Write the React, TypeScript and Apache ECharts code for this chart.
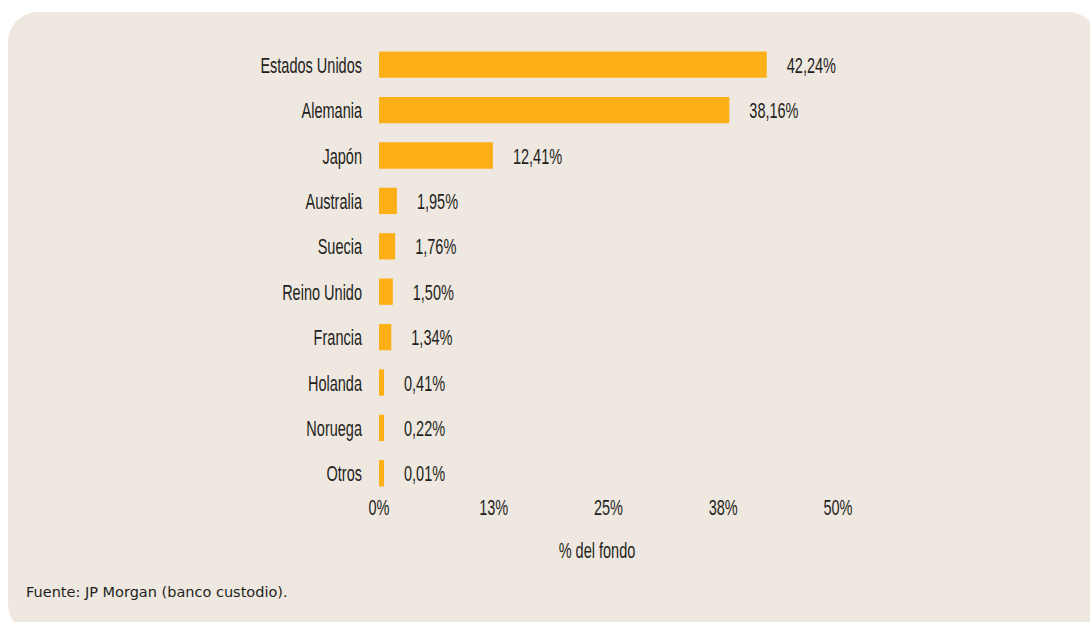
import React, { useEffect, useRef } from "react";
import * as echarts from "echarts";

const categories = [
  "Estados Unidos",
  "Alemania",
  "Japón",
  "Australia",
  "Suecia",
  "Reino Unido",
  "Francia",
  "Holanda",
  "Noruega",
  "Otros",
];
const values = [42.24, 38.16, 12.41, 1.95, 1.76, 1.5, 1.34, 0.41, 0.22, 0.01];
const tickValues = [0, 12.5, 25, 37.5, 50];
const axisName = "% del fondo";
const source = "Fuente: JP Morgan (banco custodio).";

const FONT = "'Liberation Sans', Arial, sans-serif";
const FS = 22;
const SX = 0.66;
const TEXT = "#231F20";
const BAR_MIN = 5;

function fmtPct(v: number) {
  return v.toFixed(2).replace(".", ",") + "%";
}

export default function App() {
  const ref = useRef<HTMLDivElement>(null);
  useEffect(() => {
    if (!ref.current) return;
    const chart = echarts.init(ref.current, null, { renderer: "svg" });
    chart.setOption({
      animation: false,
      graphic: [
        {
          type: "rect",
          z: -10,
          shape: { x: 8, y: 12, width: 1090, height: 622, r: 30 },
          style: { fill: "#EFE8E1" },
        },
        {
          type: "text",
          x: 597,
          y: 550,
          scaleX: SX,
          style: {
            text: axisName,
            font: `${FS}px ${FONT}`,
            fill: TEXT,
            align: "center",
            verticalAlign: "middle",
          },
        },
        {
          type: "text",
          x: 26,
          y: 592,
          style: {
            text: source,
            font: "14.5px 'DejaVu Sans', sans-serif",
            fill: TEXT,
            align: "left",
            verticalAlign: "middle",
          },
        },
      ],
      grid: { left: 379, right: 252, top: 42, bottom: 126, containLabel: false },
      xAxis: {
        type: "value",
        min: 0,
        max: 50,
        interval: 12.5,
        axisLine: { show: false },
        axisTick: { show: false },
        splitLine: { show: false },
        axisLabel: { show: false },
      },
      yAxis: {
        type: "category",
        data: categories,
        inverse: true,
        axisLine: { show: false },
        axisTick: { show: false },
        axisLabel: { show: false },
      },
      series: [
        {
          type: "bar",
          data: values,
          barCategoryGap: "42%",
          barMinHeight: BAR_MIN,
          itemStyle: { color: "#FCAF17" },
        },
        {
          type: "custom",
          clip: false,
          silent: true,
          data: values.map((v, i) => [v, categories[i]]),
          encode: { x: 0, y: 1 },
          renderItem: (params: any, api: any) => {
            const idx = api.value(1);
            const v = api.value(0);
            const p0 = api.coord([0, idx]);
            const p1 = api.coord([v, idx]);
            const end = Math.max(p1[0], p0[0] + BAR_MIN);
            return {
              type: "group",
              children: [
                {
                  type: "text",
                  x: p0[0] - 17,
                  y: p0[1] + 0.5,
                  scaleX: SX,
                  style: {
                    text: categories[idx],
                    font: `${FS}px ${FONT}`,
                    fill: TEXT,
                    align: "right",
                    verticalAlign: "middle",
                  },
                },
                {
                  type: "text",
                  x: end + 20,
                  y: p0[1] + 0.5,
                  scaleX: SX,
                  style: {
                    text: fmtPct(v),
                    font: `${FS}px ${FONT}`,
                    fill: TEXT,
                    align: "left",
                    verticalAlign: "middle",
                  },
                },
              ],
            };
          },
        },
        {
          type: "custom",
          clip: false,
          silent: true,
          data: tickValues.map((t) => [t, categories[0]]),
          encode: { x: 0, y: 1 },
          renderItem: (params: any, api: any) => {
            const t = api.value(0);
            const p = api.coord([t, 0]);
            const cs = params.coordSys;
            return {
              type: "text",
              x: p[0],
              y: cs.y + cs.height + 11,
              scaleX: SX,
              style: {
                text: Math.round(t) + "%",
                font: `${FS}px ${FONT}`,
                fill: TEXT,
                align: "center",
                verticalAlign: "middle",
              },
            };
          },
        },
      ],
    });
    return () => chart.dispose();
  }, []);
  return (
    <div
      ref={ref}
      style={{ position: "fixed", left: 0, top: 0, width: 1090, height: 622, background: "#ffffff" }}
    />
  );
}
